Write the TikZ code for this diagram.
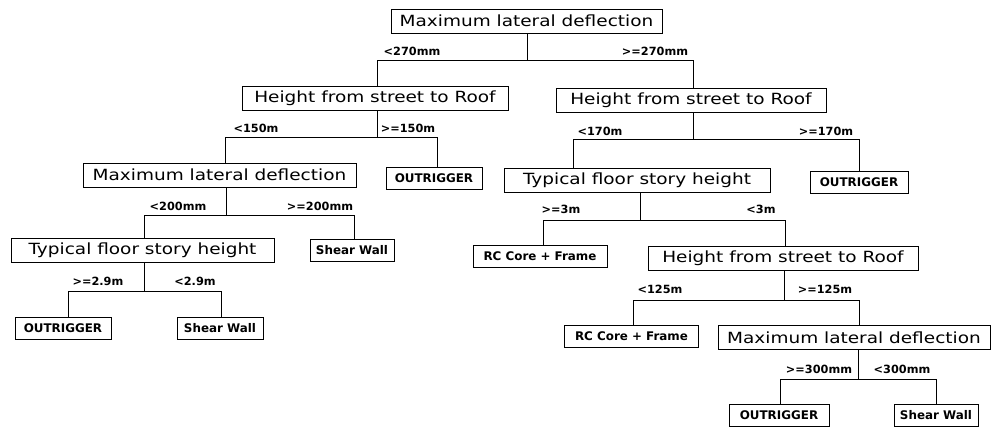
\documentclass[tikz,border=0pt]{standalone}
\usepackage{fontspec}
\newfontfamily\bigf{DejaVu Sans}[FakeStretch=1.2]
\newfontfamily\labf{DejaVu Sans}
\begin{document}
\begin{tikzpicture}[x=1pt,y=-1pt,
  q/.style={draw, line width=0.9pt, inner sep=0pt, minimum height=24pt, font=\bigf\fontsize{15.4}{17}\selectfont},
  leaf/.style={draw, line width=0.9pt, inner sep=0pt, minimum height=22pt, font=\labf\bfseries\fontsize{11.9}{13}\selectfont},
  lab/.style={inner sep=0pt, font=\labf\bfseries\fontsize{11.3}{13}\selectfont},
  conn/.style={line width=0.8pt}]
\useasboundingbox (0,0) rectangle (993,427);
% decision nodes
\node[q, minimum width=271pt] (root) at (526.5,21) {Maximum lateral deflection};
\node[q, minimum width=266pt] (hl) at (375,98) {Height from street to Roof};
\node[q, minimum width=270pt] (hr) at (691,100) {Height from street to Roof};
\node[q, minimum width=273pt] (maxl) at (219.5,175) {Maximum lateral deflection};
\node[q, minimum width=266pt] (typr) at (637,180) {Typical floor story height};
\node[q, minimum width=263pt] (typl) at (142.5,250) {Typical floor story height};
\node[q, minimum width=270pt] (h3) at (783,258.5) {Height from street to Roof};
\node[q, minimum width=272pt] (maxr) at (854,337.5) {Maximum lateral deflection};
% leaves
\node[leaf, minimum width=96pt] (out1) at (434,178.5) {OUTRIGGER};
\node[leaf, minimum width=98pt] (out2) at (859,182) {OUTRIGGER};
\node[leaf, minimum width=84pt] (sw1) at (352,250.5) {Shear Wall};
\node[leaf, minimum width=96pt] (out3) at (63,328) {OUTRIGGER};
\node[leaf, minimum width=86pt] (sw2) at (220,328) {Shear Wall};
\node[leaf, minimum width=134pt] (rc1) at (540,256) {RC Core + Frame};
\node[leaf, minimum width=134pt] (rc2) at (631.5,336) {RC Core + Frame};
\node[leaf, minimum width=100pt] (out4) at (779,415) {OUTRIGGER};
\node[leaf, minimum width=84pt] (sw3) at (936,415) {Shear Wall};
% connectors
\draw[conn] ([xshift=.5pt]root.south) -- ++(0,27) coordinate (j0) -| ([xshift=2pt]hl.north);
\draw[conn] (j0) -| ([xshift=2pt]hr.north);
\draw[conn] ([xshift=2pt]hl.south) -- ++(0,27) coordinate (j1) -| ([xshift=6pt]maxl.north);
\draw[conn] (j1) -| ([xshift=3pt]out1.north);
\draw[conn] ([xshift=2pt]hr.south) -- ++(0,27) coordinate (j2) -| ([xshift=-64pt]typr.north);
\draw[conn] (j2) -| (out2.north);
\draw[conn] ([xshift=6.5pt]maxl.south) -- ++(0,28) coordinate (j3) -| ([xshift=1.5pt]typl.north);
\draw[conn] (j3) -| ([xshift=2pt]sw1.north);
\draw[conn] ([xshift=1.5pt]typl.south) -- ++(0,29) coordinate (j4) -| ([xshift=5pt]out3.north);
\draw[conn] (j4) -| ([xshift=1pt]sw2.north);
\draw[conn] ([xshift=3pt]typr.south) -- ++(0,28) coordinate (j5) -| ([xshift=3pt]rc1.north);
\draw[conn] (j5) -| ([xshift=2pt]h3.north);
\draw[conn] ([xshift=1.5pt]h3.south) -- ++(0,29.5) coordinate (j6) -| ([xshift=1.5pt]rc2.north);
\draw[conn] (j6) -| ([xshift=5pt]maxr.north);
\draw[conn] ([xshift=4pt]maxr.south) -- ++(0,29) coordinate (j7) -| ([xshift=1pt]out4.north);
\draw[conn] (j7) -| (sw3.north);
% branch labels
\node[lab] (l1) at (412,51) {<270mm};
\node[lab] (l2) at (655,51) {>=270mm};
\node[lab] (l3) at (256,128) {<150m};
\node[lab] (l4) at (408,128) {>=150m};
\node[lab] (l5) at (600,131) {<170m};
\node[lab] (l6) at (826,131) {>=170m};
\node[lab] (l7) at (178,206) {<200mm};
\node[lab] (l8) at (320,206) {>=200mm};
\node[lab] (l9) at (98,281) {>=2.9m};
\node[lab] (l10) at (195,281) {<2.9m};
\node[lab] (l11) at (561,209) {>=3m};
\node[lab] (l12) at (761,209) {<3m};
\node[lab] (l13) at (660,289) {<125m};
\node[lab] (l14) at (825,289) {>=125m};
\node[lab] (l15) at (819,369) {>=300mm};
\node[lab] (l16) at (902,369) {<300mm};
\end{tikzpicture}
\end{document}
